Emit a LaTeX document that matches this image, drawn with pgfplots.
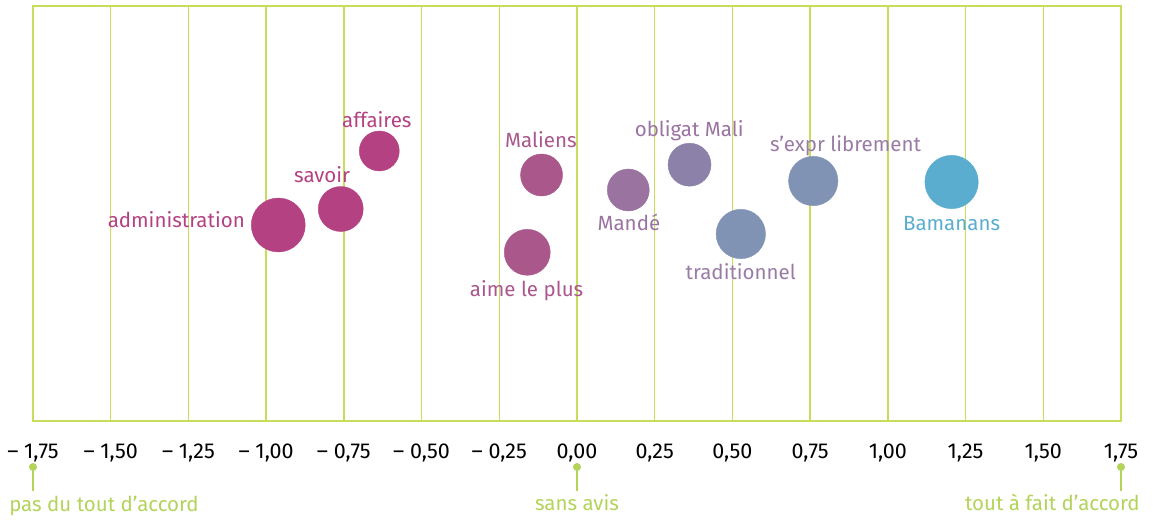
\documentclass[border=0pt]{standalone}
\usepackage{pgfplots}
\pgfplotsset{compat=1.18}
\usepackage{fontspec}
\setmainfont{Fira Sans}
\definecolor{gridc}{HTML}{C8DD5A}
\definecolor{lblc}{HTML}{B3D35A}
\definecolor{cA}{HTML}{B44282}
\definecolor{cB}{HTML}{AA578C}
\definecolor{cC}{HTML}{9A73A0}
\definecolor{cD}{HTML}{8C82A9}
\definecolor{cE}{HTML}{8093B5}
\definecolor{cF}{HTML}{5BADCF}
\definecolor{tE}{HTML}{9A7BA5}
\begin{document}
\begin{tikzpicture}
\path[use as bounding box] (0,0) rectangle (1153pt,520pt);
\begin{axis}[
  at={(33pt,99pt)}, anchor=south west,
  scale only axis, width=1088pt, height=415pt,
  xmin=-1.75, xmax=1.75, ymin=0, ymax=415,
  axis line style={gridc, line width=1.4pt},
  xmajorgrids, grid style={gridc, line width=1.4pt},
  major tick length=0pt,
  ytick=\empty,
  xtick={-1.75,-1.5,-1.25,-1,-0.75,-0.5,-0.25,0,0.25,0.5,0.75,1,1.25,1.5,1.75},
  xticklabels={{– 1,75},{– 1,50},{– 1,25},{– 1,00},{– 0,75},{– 0,50},{– 0,25},{0,00},{0,25},{0,50},{0,75},{1,00},{1,25},{1,50},{1,75}},
  xticklabel style={anchor=base, yshift=-37pt, font=\fontsize{21.5}{25}\selectfont, text=black},
  clip=false,
]
% bubbles
\addplot[draw=none, only marks, mark=*, mark size=27, mark options={draw=cA, fill=cA}] coordinates {(-0.961,196)};
\addplot[draw=none, only marks, mark=*, mark size=22.5, mark options={draw=cA, fill=cA}] coordinates {(-0.760,212)};
\addplot[draw=none, only marks, mark=*, mark size=20, mark options={draw=cA, fill=cA}] coordinates {(-0.636,270)};
\addplot[draw=none, only marks, mark=*, mark size=21, mark options={draw=cB, fill=cB}] coordinates {(-0.114,246)};
\addplot[draw=none, only marks, mark=*, mark size=23, mark options={draw=cB, fill=cB}] coordinates {(-0.160,168.7)};
\addplot[draw=none, only marks, mark=*, mark size=21, mark options={draw=cC, fill=cC}] coordinates {(0.165,231)};
\addplot[draw=none, only marks, mark=*, mark size=21.5, mark options={draw=cD, fill=cD}] coordinates {(0.362,256.3)};
\addplot[draw=none, only marks, mark=*, mark size=24.7, mark options={draw=cE, fill=cE}] coordinates {(0.527,187)};
\addplot[draw=none, only marks, mark=*, mark size=24.7, mark options={draw=cE, fill=cE}] coordinates {(0.760,240)};
\addplot[draw=none, only marks, mark=*, mark size=26.7, mark options={draw=cF, fill=cF}] coordinates {(1.205,239)};
% bubble labels
\begin{scope}[every node/.style={font=\fontsize{20.5}{24}\selectfont, inner sep=0pt}]
\node[anchor=base east, text=cA] at (axis cs:-1.068,194) {administration};
\node[anchor=base, text=cA] at (axis cs:-0.820,238.3) {savoir};
\node[anchor=base, text=cA] at (axis cs:-0.644,293.7) {affaires};
\node[anchor=base, text=cB] at (axis cs:-0.116,273.7) {Maliens};
\node[anchor=base, text=cB] at (axis cs:-0.162,125) {aime le plus};
\node[anchor=base, text=cC] at (axis cs:0.167,191) {Mandé};
\node[anchor=base, text=cC] at (axis cs:0.361,284.3) {obligat Mali};
\node[anchor=base, text=tE] at (axis cs:0.527,141.7) {traditionnel};
\node[anchor=base, text=tE] at (axis cs:0.864,269.3) {s’expr librement};
\node[anchor=base, text=cF] at (axis cs:1.205,191) {Bamanans};
\end{scope}
% scale annotations
\pgfplotsinvokeforeach{-1.75,0,1.75}{
  \draw[lblc, line width=1.3pt] (axis cs:#1,-46) -- (axis cs:#1,-70);
  \fill[lblc] (axis cs:#1,-46) circle (4pt);
}
\begin{scope}[every node/.style={font=\fontsize{20.5}{24}\selectfont, inner sep=0pt, text=lblc}]
\node[anchor=base west] at (axis cs:-1.827,-90.7) {pas du tout d’accord};
\node[anchor=base] at (axis cs:0,-89.7) {sans avis};
\node[anchor=base east] at (axis cs:1.811,-89.7) {tout à fait d’accord};
\end{scope}
\end{axis}
\end{tikzpicture}
\end{document}
